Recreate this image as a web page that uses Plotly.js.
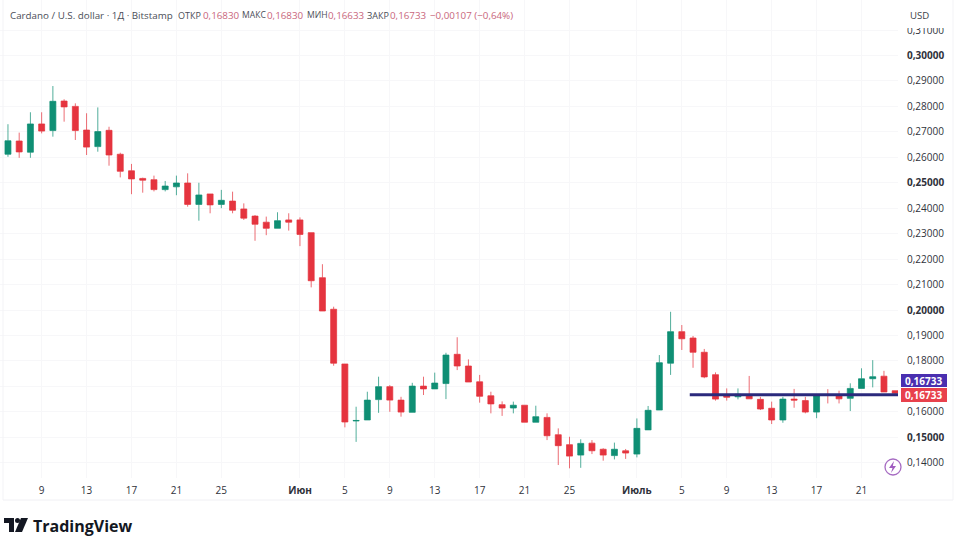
<!DOCTYPE html>
<html>
<head>
<meta charset="utf-8">
<script src="https://cdn.plot.ly/plotly-3.0.1.min.js"></script>
<style>html,body{margin:0;padding:0;background:#fff}#c{width:960px;height:545px}</style>
</head>
<body>
<div id="c"></div>
<script>
const dates = ["05-06","05-07","05-08","05-09","05-10","05-11","05-12","05-13","05-14","05-15","05-16","05-17","05-18","05-19","05-20","05-21","05-22","05-23","05-24","05-25","05-26","05-27","05-28","05-29","05-30","05-31","06-01","06-02","06-03","06-04","06-05","06-06","06-07","06-08","06-09","06-10","06-11","06-12","06-13","06-14","06-15","06-16","06-17","06-18","06-19","06-20","06-21","06-22","06-23","06-24","06-25","06-26","06-27","06-28","06-29","06-30","07-01","07-02","07-03","07-04","07-05","07-06","07-07","07-08","07-09","07-10","07-11","07-12","07-13","07-14","07-15","07-16","07-17","07-18","07-19","07-20","07-21","07-22","07-23","07-24"];
const opens = [.2612,.2664,.2620,.2731,.2705,.2821,.2800,.2707,.2642,.2706,.2612,.2547,.2517,.2512,.2473,.2484,.2499,.2415,.2456,.2415,.2428,.2397,.2369,.2345,.2321,.2354,.2354,.2304,.2127,.2003,.1788,.1564,.1568,.1648,.1699,.1646,.1598,.1701,.1690,.1711,.1826,.1780,.1718,.1663,.1628,.1615,.1626,.1559,.1578,.1510,.1471,.1430,.1477,.1453,.1428,.1447,.1434,.1529,.1607,.1791,.1915,.1890,.1834,.1746,.1667,.1659,.1667,.1649,.1614,.1568,.1650,.1644,.1599,.1667,.1667,.1653,.1692,.1730,.1740,.1683];
const highs = [.2730,.2697,.2777,.2777,.2880,.2828,.2812,.2773,.2796,.2720,.2618,.2574,.2520,.2528,.2507,.2528,.2537,.2500,.2456,.2472,.2465,.2419,.2373,.2367,.2384,.2380,.2364,.2304,.2180,.2013,.1788,.1620,.1679,.1738,.1705,.1659,.1714,.1738,.1754,.1832,.1893,.1806,.1745,.1679,.1641,.1640,.1626,.1624,.1594,.1535,.1502,.1492,.1489,.1457,.1479,.1454,.1574,.1623,.1823,.1993,.1941,.1898,.1847,.1755,.1692,.1692,.1741,.1659,.1640,.1659,.1690,.1659,.1666,.1689,.1683,.1712,.1771,.1803,.1761,.1683];
const lows = [.2602,.2598,.2598,.2694,.2681,.2740,.2668,.2609,.2622,.2567,.2521,.2455,.2461,.2466,.2466,.2451,.2406,.2351,.2380,.2400,.2380,.2354,.2272,.2294,.2321,.2312,.2251,.2089,.1996,.1781,.1539,.1482,.1568,.1596,.1600,.1581,.1598,.1666,.1690,.1650,.1764,.1717,.1636,.1594,.1584,.1594,.1559,.1559,.1489,.1391,.1378,.1380,.1434,.1408,.1413,.1415,.1421,.1529,.1607,.1745,.1843,.1773,.1732,.1644,.1644,.1649,.1651,.1607,.1552,.1557,.1616,.1594,.1575,.1633,.1633,.1603,.1692,.1696,.1678,.1663];
const closes = [.2665,.2621,.2731,.2703,.2820,.2798,.2705,.2640,.2701,.2609,.2545,.2515,.2510,.2473,.2487,.2499,.2415,.2452,.2413,.2431,.2392,.2361,.2337,.2321,.2351,.2345,.2297,.2115,.1996,.1791,.1560,.1566,.1646,.1699,.1646,.1599,.1701,.1690,.1713,.1823,.1780,.1717,.1661,.1631,.1615,.1626,.1559,.1581,.1506,.1467,.1426,.1476,.1447,.1430,.1453,.1438,.1535,.1606,.1793,.1915,.1887,.1834,.1737,.1650,.1657,.1669,.1651,.1611,.1568,.1650,.1646,.1599,.1663,.1665,.1651,.1692,.1730,.1738,.1678,.1673];
const priceTicks = [.31,.30,.29,.28,.27,.26,.25,.24,.23,.22,.21,.20,.19,.18,.17,.16,.15,.14];
const priceLabels = ["0,31000","<b>0,30000</b>","0,29000","0,28000","0,27000","0,26000","<b>0,25000</b>","0,24000","0,23000","0,22000","0,21000","<b>0,20000</b>","0,19000","0,18000","","0,16000","<b>0,15000</b>","0,14000"];
const timeTicks = ["05-09","05-13","05-17","05-21","05-25","06-01","06-05","06-09","06-13","06-17","06-21","06-25","07-01","07-05","07-09","07-13","07-17","07-21"];
const timeLabels = ["9","13","17","21","25","<b>Июн</b>","5","9","13","17","21","25","<b>Июль</b>","5","9","13","17","21"];
const levelDates = ["07-05 17:00","07-24 06:00"];
const levelValues = [.1667,.1667];
const lastPrice = "0,16733";

const YEAR = "2024-";
const W = 898, H = 478;
const FONT = "'Open Sans', sans-serif";
const px = x => x / W;
const py = y => 1 - y / H;

const up = "#0f8f74", down = "#e5343f";
const candles = {
  type: "candlestick",
  x: dates.map(d => YEAR + d),
  open: opens, high: highs, low: lows, close: closes,
  increasing: {line: {color: "rgba(15,143,116,0.72)", width: 1}, fillcolor: up},
  decreasing: {line: {color: "rgba(229,52,63,0.72)", width: 1}, fillcolor: down},
  whiskerwidth: 0,
  hoverinfo: "skip",
  showlegend: false
};
const level = {
  type: "scatter", mode: "lines",
  x: levelDates.map(d => YEAR + d), y: levelValues,
  line: {color: "#2b2a7c", width: 3},
  hoverinfo: "skip", showlegend: false
};

function rect(x0, y0, x1, y1, fill) {
  return {type: "rect", xref: "paper", yref: "paper", x0: px(x0), x1: px(x1), y0: py(y0), y1: py(y1),
          fillcolor: fill, line: {width: 0}, layer: "above"};
}
function hline(x0, y0, x1, y1, color) {
  return {type: "line", xref: "paper", yref: "paper", x0: px(x0), x1: px(x1), y0: py(y0), y1: py(y1),
          line: {color: color, width: 1}, layer: "above"};
}
function poly(points, fill) {
  const p = points.map((q, i) => (i ? "L" : "M") + px(q[0]) + "," + py(q[1])).join(" ") + " Z";
  return {type: "path", xref: "paper", yref: "paper", path: p, fillcolor: fill, line: {width: 0}, layer: "above"};
}
function label(x, y, text, size, color, anchor) {
  return {xref: "paper", yref: "paper", x: px(x), y: py(y), text: text, showarrow: false,
          xanchor: anchor || "left", yanchor: "middle",
          font: {family: FONT, size: size, color: color}, borderpad: 0};
}

const hdr = "#4a4d57", val = "#c9667c";
const headerParts = [
  [9, "Cardano / U.S. dollar · 1Д · Bitstamp", hdr, 9.8],
  [177, "ОТКР", hdr, 9], [201.5, "0,16830", val, 9.8],
  [241, "МАКС", hdr, 8.6], [266, "0,16830", val, 9.8],
  [306, "МИН", hdr, 8.6], [327, "0,16633", val, 9.8],
  [366, "ЗАКР", hdr, 9], [389, "0,16733", val, 9.8],
  [429, "−0,00107 (−0,64%)", val, 9.8]
];

const layout = {
  width: 960, height: 545,
  margin: {l: 0, r: 62, t: 0, b: 67, pad: 0},
  paper_bgcolor: "#fff", plot_bgcolor: "#fff",
  dragmode: false,
  boxgap: 0.24,
  xaxis: {
    type: "date",
    range: [YEAR + "05-05 07:00", YEAR + "07-24 06:00"],
    tickmode: "array",
    tickvals: timeTicks.map(d => YEAR + d), ticktext: timeLabels,
    tickfont: {family: FONT, size: 10, color: "#2f323b"},
    ticks: "", showline: false, showgrid: true, gridcolor: "#f7f7f9", gridwidth: 1,
    zeroline: false, rangeslider: {visible: false}, ticklabelstandoff: 5
  },
  yaxis: {
    side: "right",
    range: [.1340, .3218],
    tickmode: "array",
    tickvals: priceTicks, ticktext: priceLabels,
    tickfont: {family: FONT, size: 10, color: "#2f323b"},
    ticks: "", showline: false, showgrid: true, gridcolor: "#f7f7f9", gridwidth: 1,
    zeroline: false, ticklabelstandoff: 8
  },
  shapes: [
    hline(3, 0, 3, 500, "#f3f3f6"),
    hline(3, 500, 953, 500, "#f0f0f4"),
    hline(953, 0, 953, 500, "#f3f3f6"),
    rect(903, 4, 950, 28, "#ffffff"),
    rect(901, 374, 947, 387, "#4a2fb0"),
    rect(901, 388, 947, 402, "#e8414c"),
    // TradingView mark
    poly([[4,518],[14,518],[14,532],[9,532],[9,523],[4,523]], "#131722"),
    {type: "circle", xref: "paper", yref: "paper", x0: px(15), x1: px(20), y0: py(518), y1: py(523),
     fillcolor: "#131722", line: {width: 0}, layer: "above"},
    poly([[21,518],[28,518],[22,532],[15,532]], "#131722"),
    // flash badge
    {type: "circle", xref: "paper", yref: "paper", x0: px(885), x1: px(901), y0: py(459), y1: py(475),
     fillcolor: "#ffffff", line: {color: "#a66bc2", width: 1.3}, layer: "above"},
    poly([[894,461],[889,468],[892.5,468],[891,473],[896,466],[892.8,466]], "#a05cc0")
  ],
  annotations: [
    ...headerParts.map(p => label(p[0], 15.5, p[1], p[3], p[2])),
    label(919.5, 15.5, "USD", 9.6, "#3c3f48", "center"),
    label(924, 380.7, "<b>" + lastPrice + "</b>", 10, "#ffffff", "center"),
    label(924, 395, "<b>" + lastPrice + "</b>", 10, "#ffffff", "center"),
    label(32, 525.5, "<b>TradingView</b>", 16, "#131722")
  ]
};
Plotly.newPlot("c", [candles, level], layout, {staticPlot: true, displayModeBar: false});
</script>
</body>
</html>
